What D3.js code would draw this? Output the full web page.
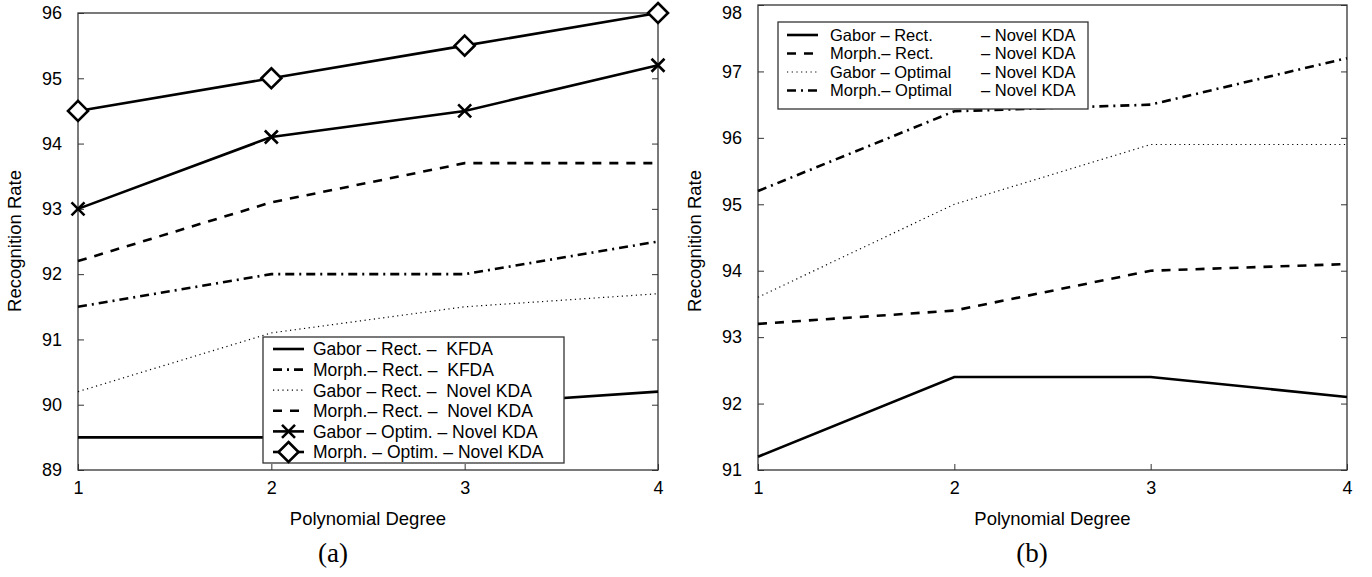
<!DOCTYPE html>
<html><head><meta charset="utf-8">
<script src="https://cdn.jsdelivr.net/npm/d3@7"></script>
<style>body{margin:0;background:#fff}svg{display:block}text{font-family:"Liberation Sans",Arial,sans-serif;fill:#000}</style>
</head><body><svg id="c" width="1372" height="577"></svg>
<script>
const degrees = [1, 2, 3, 4];
const yTicksA = [89, 90, 91, 92, 93, 94, 95, 96];
const yTicksB = [91, 92, 93, 94, 95, 96, 97, 98];

// Panel (a)
const gaborRectKFDA   = [89.5, 89.5, 90.0, 90.2];
const morphRectKFDA   = [91.5, 92.0, 92.0, 92.5];
const gaborRectNovelA = [90.2, 91.1, 91.5, 91.7];
const morphRectNovelA = [92.2, 93.1, 93.7, 93.7];
const gaborOptimNovel = [93.0, 94.1, 94.5, 95.2];
const morphOptimNovel = [94.5, 95.0, 95.5, 96.0];
const labelsA = ["Gabor \u2013 Rect. \u2013  KFDA", "Morph.\u2013 Rect. \u2013  KFDA", "Gabor \u2013 Rect. \u2013  Novel KDA",
  "Morph.\u2013 Rect. \u2013  Novel KDA", "Gabor \u2013 Optim. \u2013 Novel KDA", "Morph. \u2013 Optim. \u2013 Novel KDA"];

// Panel (b)
const gaborRectNovelB = [91.2, 92.4, 92.4, 92.1];
const morphRectNovelB = [93.2, 93.4, 94.0, 94.1];
const gaborOptimalB   = [93.6, 95.0, 95.9, 95.9];
const morphOptimalB   = [95.2, 96.4, 96.5, 97.2];
const labelsB1 = ["Gabor \u2013 Rect.", "Morph.\u2013 Rect.", "Gabor \u2013 Optimal", "Morph.\u2013 Optimal"];
const labelB2 = "\u2013 Novel KDA";

const styles = {
  solid:   {w: 2.6, dash: null},
  dashdot: {w: 2.6, dash: "9,5,2,5"},
  dotted:  {w: 1.2, dash: "1.2,3.5"},
  dashed:  {w: 2.6, dash: "9,8"}
};

const svg = d3.select("#c");

function panel(cfg) {
  const x = d3.scaleLinear().domain([1, 4]).range([cfg.left, cfg.right]);
  const y = d3.scaleLinear().domain(cfg.ydom).range([cfg.bottom, cfg.top]);
  const g = svg.append("g");
  const ax = g.append("g").attr("transform", `translate(0,${cfg.bottom})`)
    .call(d3.axisBottom(x).tickValues(degrees).tickFormat(d3.format("d")).tickSizeInner(-6).tickSizeOuter(0).tickPadding(11));
  const ay = g.append("g").attr("transform", `translate(${cfg.left},0)`)
    .call(d3.axisLeft(y).tickValues(cfg.yticks).tickFormat(d3.format("d")).tickSizeInner(-6).tickSizeOuter(0).tickPadding(16));
  const ar = g.append("g").attr("transform", `translate(${cfg.right},0)`)
    .call(d3.axisRight(y).tickValues(cfg.yticks).tickFormat("").tickSizeInner(-6).tickSizeOuter(0));
  [ax, ay, ar].forEach(a => {
    a.selectAll("text").style("font-size", "18px").style("font-family", "Liberation Sans, Arial, sans-serif");
    a.selectAll("line").attr("stroke", "#333");
    a.select(".domain").remove();
  });
  // keep the top tick label inside the page
  ay.selectAll(".tick").filter(d => y(d) < 10).select("text").attr("dy", "0.75em");
  g.append("rect").attr("x", cfg.left).attr("y", cfg.top).attr("width", cfg.right - cfg.left)
    .attr("height", cfg.bottom - cfg.top).attr("fill", "none").attr("stroke", "#333").attr("stroke-width", 1.3);
  g.append("text").attr("x", (cfg.left + cfg.right) / 2).attr("y", cfg.bottom + 55).attr("text-anchor", "middle")
    .style("font-size", "18.5px").text("Polynomial Degree");
  g.append("text").attr("transform", `translate(${cfg.left - 57},${241}) rotate(-90)`)
    .attr("text-anchor", "middle").style("font-size", "18.5px").text("Recognition Rate");
  g.append("text").attr("x", cfg.capX).attr("y", cfg.bottom + 92).attr("text-anchor", "middle")
    .style("font-family", "Liberation Serif, Times New Roman, serif").style("font-size", "27px").text(cfg.caption);

  const line = d3.line().x((d, i) => x(degrees[i])).y(d => y(d));
  cfg.series.forEach(s => {
    const st = styles[s.style];
    g.append("path").attr("d", line(s.values)).attr("fill", "none").attr("stroke", "#000")
      .attr("stroke-width", st.w).attr("stroke-dasharray", st.dash);
    if (s.marker) {
      s.values.forEach((v, i) => drawMarker(g, s.marker, x(degrees[i]), y(v)));
    }
  });
  return {x, y, g};
}

function drawMarker(g, m, cx, cy) {
  if (m === "x") {
    const r = 6.5;
    g.append("path").attr("d", `M${cx - r},${cy - r}L${cx + r},${cy + r}M${cx - r},${cy + r}L${cx + r},${cy - r}`)
      .attr("stroke", "#000").attr("stroke-width", 2.6).attr("fill", "none");
  } else if (m === "diamond") {
    const r = 10;
    g.append("path").attr("d", `M${cx},${cy - r}L${cx + r},${cy}L${cx},${cy + r}L${cx - r},${cy}Z`)
      .attr("stroke", "#000").attr("stroke-width", 2.6).attr("fill", "#fff");
  }
}

function legend(g, box, rows, items) {
  g.append("rect").attr("x", box.x).attr("y", box.y).attr("width", box.w).attr("height", box.h)
    .attr("fill", "#fff").attr("stroke", "#333").attr("stroke-width", 1.3);
  items.forEach((it, i) => {
    const cy = rows.y0 + i * rows.dy;
    const st = styles[it.style];
    g.append("line").attr("x1", rows.lx1).attr("x2", rows.lx2).attr("y1", cy).attr("y2", cy)
      .attr("stroke", "#000").attr("stroke-width", st.w).attr("stroke-dasharray", st.dash);
    if (it.marker) drawMarker(g, it.marker, (rows.lx1 + rows.lx2) / 2, cy);
    g.append("text").attr("x", rows.tx).attr("y", cy).attr("dy", "0.36em").attr("xml:space", "preserve")
      .style("white-space", "pre").style("font-size", rows.fs).text(it.label);
    if (it.label2) {
      g.append("text").attr("x", rows.tx2).attr("y", cy).attr("dy", "0.36em")
        .style("font-size", rows.fs).text(it.label2);
    }
  });
}

const seriesA = [
  {values: gaborRectKFDA, style: "solid"},
  {values: morphRectKFDA, style: "dashdot"},
  {values: gaborRectNovelA, style: "dotted"},
  {values: morphRectNovelA, style: "dashed"},
  {values: gaborOptimNovel, style: "solid", marker: "x"},
  {values: morphOptimNovel, style: "solid", marker: "diamond"}
];
const pa = panel({left: 78, right: 658, top: 13, bottom: 470, ydom: [89, 96], yticks: yTicksA,
  caption: "(a)", capX: 333, series: seriesA});
legend(pa.g, {x: 263, y: 337, w: 301, h: 126},
  {y0: 349, dy: 20.6, lx1: 273, lx2: 304, tx: 313, fs: "17.5px"},
  seriesA.map((s, i) => ({style: s.style, marker: s.marker, label: labelsA[i]})));

const seriesB = [
  {values: gaborRectNovelB, style: "solid"},
  {values: morphRectNovelB, style: "dashed"},
  {values: gaborOptimalB, style: "dotted"},
  {values: morphOptimalB, style: "dashdot"}
];
const pb = panel({left: 758, right: 1347, top: 5, bottom: 470, ydom: [91, 98], yticks: yTicksB,
  caption: "(b)", capX: 1032, series: seriesB});
legend(pb.g, {x: 778, y: 22, w: 310, h: 87},
  {y0: 35, dy: 18.5, lx1: 787, lx2: 818, tx: 830, tx2: 981, fs: "16.5px"},
  seriesB.map((s, i) => ({style: s.style, label: labelsB1[i], label2: labelB2})));
</script></body></html>
